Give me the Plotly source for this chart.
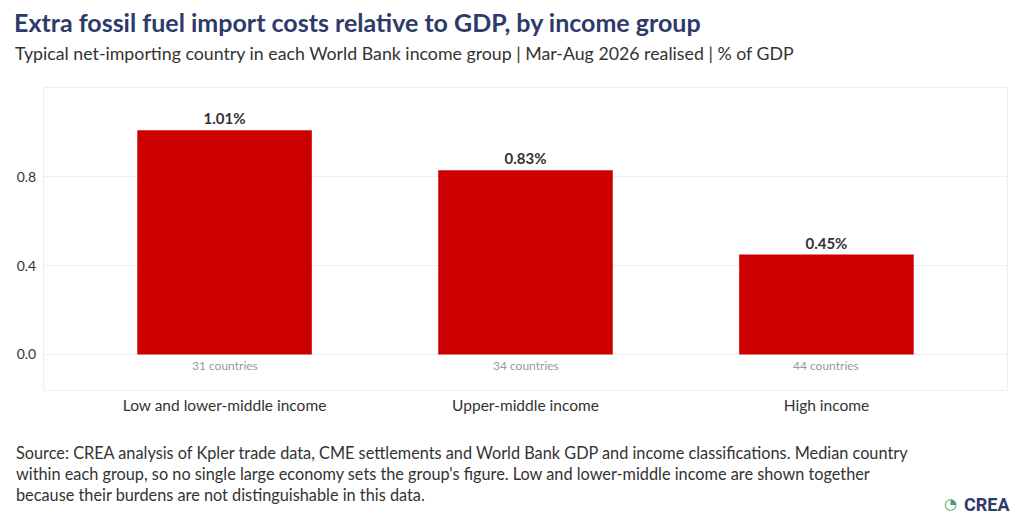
import plotly.graph_objects as go

# values
groups = ['Low and lower-middle income', 'Upper-middle income', 'High income']
share_of_gdp = [1.01, 0.83, 0.45]
country_counts = [31, 34, 44]
y_ticks = [0.0, 0.4, 0.8]

FONT = 'Lato'
NAVY = '#2e3a6b'
RED = '#cc0000'


def main():
    fig = go.Figure()

    fig.add_trace(go.Bar(
        x=groups,
        y=share_of_gdp,
        width=0.58,
        marker=dict(color=RED, line=dict(width=0)),
        text=[f'{v:.2f}%' for v in share_of_gdp],
        textposition='outside',
        textfont=dict(family=FONT, size=15, color='#333333', weight='bold'),
        cliponaxis=False,
        hovertemplate='%{x}: %{y:.2f}%<extra></extra>',
        showlegend=False,
    ))

    # country counts just under the zero line
    for g, n in zip(groups, country_counts):
        fig.add_annotation(
            x=g, y=0, yref='y', text=f'{n} countries', showarrow=False,
            yanchor='top', yshift=-2,
            font=dict(family=FONT, size=12, color='#999999'),
        )

    fig.add_annotation(
        xref='paper', yref='paper', x=-0.033, y=1.0, xanchor='left', yanchor='bottom',
        yshift=49, text='<b>Extra fossil fuel import costs relative to GDP, by income group</b>',
        showarrow=False, font=dict(family=FONT, size=25, color=NAVY),
    )
    fig.add_annotation(
        xref='paper', yref='paper', x=-0.032, y=1.0, xanchor='left', yanchor='bottom',
        yshift=22,
        text='Typical net-importing country in each World Bank income group | Mar-Aug 2026 realised | % of GDP',
        showarrow=False, font=dict(family=FONT, size=17.75, color='#333333'),
    )
    fig.add_annotation(
        xref='paper', yref='paper', x=-0.0315, y=0, xanchor='left', yanchor='top',
        yshift=-51, align='left',
        text=("Source: CREA analysis of Kpler trade data, CME settlements and World Bank GDP and income classifications. Median country<br>"
              "within each group, so no single large economy sets the group's figure. Low and lower-middle income are shown together<br>"
              "because their burdens are not distinguishable in this data."),
        showarrow=False, font=dict(family=FONT, size=16.3, color='#333333'),
    )
    # CREA logo (rough)
    fig.add_annotation(
        xref='paper', yref='paper', x=1.005, y=0, xanchor='right', yanchor='middle',
        yshift=-114, text='<b>CREA</b>', showarrow=False,
        font=dict(family='Roboto', size=18, color=NAVY),
    )
    fig.add_annotation(
        xref='paper', yref='paper', x=0.941, y=0, xanchor='center', yanchor='middle',
        yshift=-114, text='<b>◔</b>', showarrow=False,
        font=dict(family='DejaVu Sans', size=15, color='#3aa36a'),
    )

    # page body has a margin, so the figure is shrunk to fit the window
    fig.update_layout(
        width=1016, height=516,
        margin=dict(l=36, r=17, t=80, b=134),
        paper_bgcolor='white', plot_bgcolor='white',
        font=dict(family=FONT, color='#333333'),
        xaxis=dict(
            range=[-0.6, 2.6],
            showgrid=False, zeroline=False,
            showline=True, mirror=True, linecolor='#efefef', linewidth=1,
            ticks='', tickfont=dict(family=FONT, size=15.5, color='#333333'),
            ticklabelstandoff=1,
        ),
        yaxis=dict(
            range=[-0.16, 1.2],
            tickvals=y_ticks, ticktext=[f'{t:.1f}' for t in y_ticks],
            showgrid=True, gridcolor='#efefef', gridwidth=1,
            zeroline=False, automargin=False,
            showline=True, mirror=True, linecolor='#efefef', linewidth=1,
            ticks='', tickfont=dict(family=FONT, size=14, color='#333333'),
            ticklabelstandoff=4,
        ),
    )

    fig.write_html('out.html')


if __name__ == '__main__':
    main()
